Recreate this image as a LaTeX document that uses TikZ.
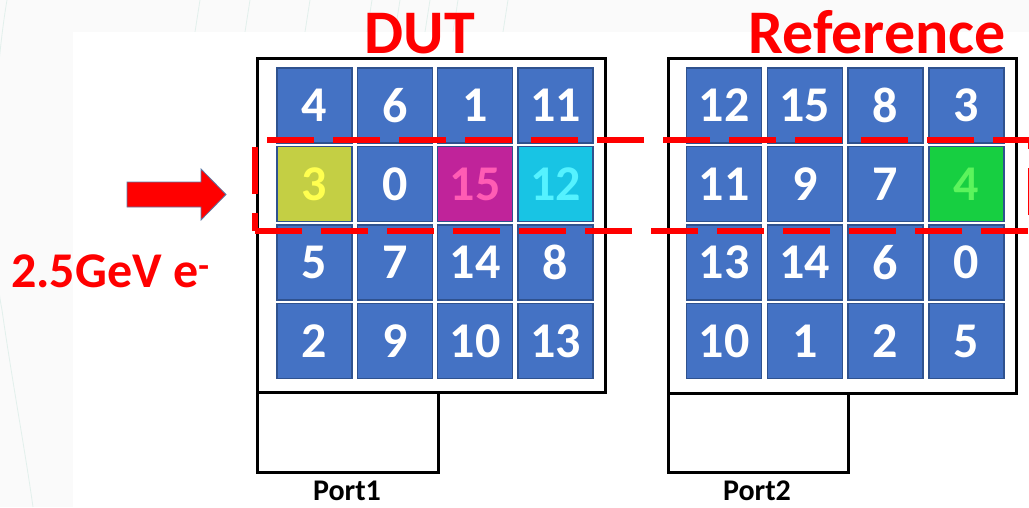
\documentclass[tikz,border=0pt]{standalone}
\usepackage{fontspec}
\setmainfont{Carlito}
\definecolor{tileblue}{HTML}{4472C4}
\definecolor{tileedge}{HTML}{2F528F}
\definecolor{arrowedge}{HTML}{5B7BA8}
\definecolor{olive}{HTML}{C4CF44}
\definecolor{olivetxt}{HTML}{FFFF50}
\definecolor{magent}{HTML}{C0239A}
\definecolor{magenttxt}{HTML}{FF5CB4}
\definecolor{cyanfill}{HTML}{18C4E4}
\definecolor{cyantxt}{HTML}{55F2FF}
\definecolor{greenfill}{HTML}{17CF41}
\definecolor{greentxt}{HTML}{5CF45C}
\definecolor{slidegrey}{HTML}{FAFAFA}
\definecolor{slideline}{HTML}{E2F0EC}
\begin{document}
\begin{tikzpicture}[x=1pt,y=-1pt,
  tile/.style={draw=tileedge, line width=1.5pt, fill=tileblue, text=white,
    minimum width=75pt, minimum height=75pt, inner sep=0pt,
    font=\fontsize{50}{60}\selectfont\bfseries},
  tileY/.style={tile, fill=olive, text=olivetxt},
  tileM/.style={tile, fill=magent, text=magenttxt},
  tileC/.style={tile, fill=cyanfill, text=cyantxt},
  tileG/.style={tile, fill=greenfill, text=greentxt},
  frame/.style={draw=black, line width=3pt, fill=white},
  heading/.style={text=red, inner sep=0pt, anchor=base,
    font=\fontsize{62}{70}\selectfont\bfseries},
  portlabel/.style={inner sep=0pt, anchor=base,
    font=\fontsize{30}{34}\selectfont\bfseries},
  beamrow/.style={draw=red, line width=5.5pt, dash pattern=on 47pt off 19pt}
]
\useasboundingbox (0,0) rectangle (1029,507);
\clip (0,0) rectangle (1029,507);

% slide background
\fill[slidegrey] (0,0) rectangle (1029,507);
\begin{scope}
  \clip (0,0) rectangle (1029,32) (0,0) rectangle (73,507);
  \draw[slideline, line width=0.8pt] (7,0) .. controls (-10,100) and (-10,250) .. (2,310)
    .. controls (12,380) and (25,450) .. (33,507);
  \foreach \sx in {200,250,310,372,400,430,458,508}
    \draw[slideline, line width=0.8pt] (\sx,0) -- (\sx-5,32);
\end{scope}
\fill[white] (73,32) rectangle (1029,507);

% module outlines and readout ports
\draw[frame] (257,392) rectangle (438,472);
\draw[frame] (668,393) rectangle (848,472);
\draw[frame] (257,58) rectangle (605,392);
\draw[frame] (668,58) rectangle (1016,393);

% DUT channel map
\foreach \r/\c/\v/\s in {
  0/0/4/tile, 0/1/6/tile, 0/2/1/tile, 0/3/11/tile,
  1/0/3/tileY, 1/1/0/tile, 1/2/15/tileM, 1/3/12/tileC,
  2/0/5/tile, 2/1/7/tile, 2/2/14/tile, 2/3/8/tile,
  3/0/2/tile, 3/1/9/tile, 3/2/10/tile, 3/3/13/tile}
  \node[style=\s] (d-\r-\c) at ({314.5+80.3*\c},{105.5+78.5*\r}) {\raisebox{-2pt}{\v}};

% Reference channel map
\foreach \r/\c/\v/\s in {
  0/0/12/tile, 0/1/15/tile, 0/2/8/tile, 0/3/3/tile,
  1/0/11/tile, 1/1/9/tile, 1/2/7/tile, 1/3/4/tileG,
  2/0/13/tile, 2/1/14/tile, 2/2/6/tile, 2/3/0/tile,
  3/0/10/tile, 3/1/1/tile, 3/2/2/tile, 3/3/5/tile}
  \node[style=\s] (r-\r-\c) at ({724+80.8*\c},{105.5+78.5*\r}) {\raisebox{-2pt}{\v}};

% headings and labels
\node[heading] (dut) at (420,53) {DUT};
\node[heading] (ref) at (877,53) {Reference};
\node[portlabel] (p1) at (347,500) {Port1};
\node[portlabel] (p2) at (757,500) {Port2};
\node[text=red, inner sep=0pt, anchor=base west,
  font=\fontsize{50}{60}\selectfont\bfseries] (beam) at (11,287) {2.5GeV e\textsuperscript{-}};

% incoming beam
\draw[fill=red, draw=arrowedge, line width=0.8pt]
  (127,182) -- (201,182) -- (201,169) -- (226,194.5) -- (201,220) -- (201,207) -- (127,207) -- cycle;

% row crossed by the beam
\coordinate (bl) at (255,231);
\coordinate (br) at (1031,231);
\coordinate (tr) at (1031,140);
\coordinate (tl) at (255,140);
\draw[beamrow] (bl) -- (br) -- (tr) -- (tl) -- cycle;
\end{tikzpicture}
\end{document}
